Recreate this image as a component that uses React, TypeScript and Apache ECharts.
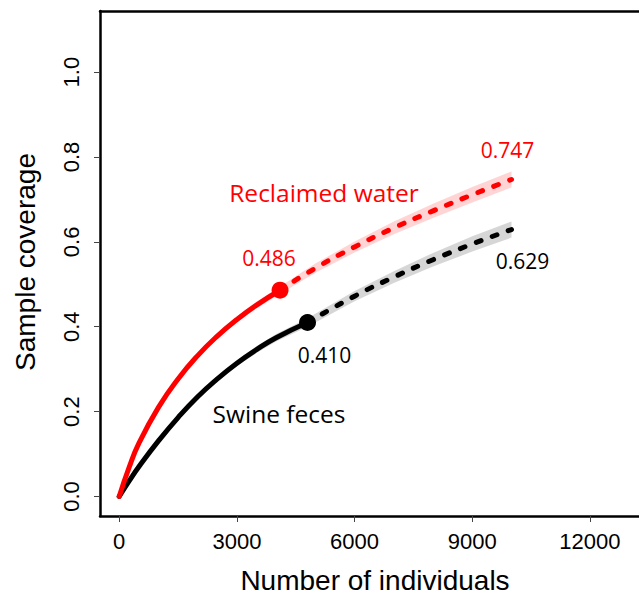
import React, { useEffect, useRef } from "react";
import * as echarts from "echarts";

// Rarefaction (observed) part
const redObsX = [0, 250, 500, 1000, 1500, 2000, 2500, 3000, 3500, 4100];
const redObsY = [0, 0.068, 0.125, 0.21, 0.277, 0.332, 0.378, 0.417, 0.451, 0.486];
// Extrapolated part
const redExtX = [4100, 5000, 6000, 7000, 8000, 9000, 10000];
const redExtY = [0.486, 0.538, 0.588, 0.633, 0.673, 0.711, 0.747];
// Confidence band half widths along x
const redBandX = [0, 500, 1000, 1500, 2000, 2500, 3000, 3500, 4100, 5000, 6000, 7000, 8000, 9000, 10000];
const redBandHalf = [0, 0.002, 0.003, 0.004, 0.005, 0.006, 0.007, 0.008, 0.009, 0.011, 0.013, 0.015, 0.017, 0.018, 0.019];

const blackObsX = [0, 250, 500, 1000, 1500, 2000, 2500, 3000, 3500, 4000, 4800];
const blackObsY = [0, 0.036, 0.07, 0.131, 0.186, 0.235, 0.277, 0.314, 0.346, 0.374, 0.41];
const blackExtX = [4800, 6000, 7000, 8000, 9000, 10000];
const blackExtY = [0.41, 0.472, 0.517, 0.558, 0.595, 0.629];
const blackBandX = [0, 500, 1000, 1500, 2000, 2500, 3000, 3500, 4000, 4800, 6000, 7000, 8000, 9000, 10000];
const blackBandHalf = [0, 0.002, 0.003, 0.004, 0.005, 0.006, 0.007, 0.008, 0.009, 0.01, 0.012, 0.014, 0.016, 0.018, 0.019];

const xTicks = [0, 3000, 6000, 9000, 12000];
const yTicks = [0, 0.2, 0.4, 0.6, 0.8, 1.0];

const RED = "#ff0000";
const BLACK = "#000000";

function interp(xs: number[], ys: number[], x: number): number {
  for (let i = 0; i < xs.length - 1; i++) {
    if (x >= xs[i] && x <= xs[i + 1]) {
      const t = (x - xs[i]) / (xs[i + 1] - xs[i]);
      return ys[i] + t * (ys[i + 1] - ys[i]);
    }
  }
  return ys[ys.length - 1];
}

function centerAt(obsX: number[], obsY: number[], extX: number[], extY: number[], x: number) {
  if (x <= obsX[obsX.length - 1]) return interp(obsX, obsY, x);
  return interp(extX, extY, x);
}

function bandSeries(obsX: number[], obsY: number[], extX: number[], extY: number[], bx: number[], bh: number[], color: string) {
  return {
    type: "custom",
    silent: true,
    z: 1,
    data: [0],
    renderItem: (_params: any, api: any) => {
      const upper: number[][] = [];
      const lower: number[][] = [];
      for (let i = 0; i < bx.length; i++) {
        const c = centerAt(obsX, obsY, extX, extY, bx[i]);
        upper.push(api.coord([bx[i], c + bh[i]]));
        lower.push(api.coord([bx[i], c - bh[i]]));
      }
      const pts = upper.concat(lower.reverse());
      return {
        type: "polygon",
        shape: { points: pts },
        style: { fill: color },
      };
    },
  };
}

function lineSeries(xs: number[], ys: number[], color: string, dashed: boolean) {
  return {
    type: "line",
    data: xs.map((x, i) => [x, ys[i]]),
    showSymbol: false,
    smooth: 0.5,
    z: 3,
    lineStyle: {
      color,
      width: 5,
      type: dashed ? [5, 12] : "solid",
      cap: "round",
      join: "round",
    },
  };
}

export default function App() {
  const ref = useRef<HTMLDivElement>(null);
  useEffect(() => {
    if (!ref.current) return;
    const chart = echarts.init(ref.current, undefined, { renderer: "svg" });
    const axisFont = "Liberation Sans, Arial, sans-serif";
    const labelFont = "Open Sans, sans-serif";
    const frameLine = { show: true, onZero: false, lineStyle: { color: "#000", width: 2.5 } };
    chart.setOption({
      animation: false,
      grid: {
        left: 100,
        top: 11,
        right: 0,
        height: 505,
        show: false,
      },
      xAxis: [
        {
          type: "value",
          position: "bottom",
          min: -490,
          max: 13250,
          splitLine: { show: false },
          axisLine: frameLine,
          axisTick: {
            show: true,
            length: 6,
            customValues: xTicks,
            lineStyle: { color: "#444", width: 1 },
          },
          axisLabel: {
            customValues: xTicks,
            fontFamily: axisFont,
            fontSize: 22,
            color: "#000",
            margin: 14,
            formatter: (v: number) => String(v),
          },
        },
        {
          type: "value",
          position: "top",
          min: -490,
          max: 13250,
          splitLine: { show: false },
          axisLine: frameLine,
          axisTick: { show: false },
          axisLabel: { show: false },
        },
      ],
      yAxis: {
        type: "value",
        min: -0.046,
        max: 1.144,
        splitLine: { show: false },
        axisLine: frameLine,
        axisTick: {
          show: true,
          length: 6,
          customValues: yTicks,
          lineStyle: { color: "#444", width: 1 },
        },
        axisLabel: {
          customValues: yTicks,
          rotate: 90,
          fontFamily: axisFont,
          fontSize: 22,
          color: "#000",
          margin: 18,
          formatter: (v: number) => v.toFixed(1),
        },
      },
      graphic: [
        {
          type: "text",
          x: 375,
          y: 580,
          style: {
            text: "Number of individuals",
            font: `28px ${axisFont}`,
            lineHeight: 26,
            fill: "#000",
            align: "center",
            verticalAlign: "middle",
          },
        },
        {
          type: "text",
          x: 25,
          y: 262,
          rotation: Math.PI / 2,
          style: {
            text: "Sample coverage",
            font: `28px ${axisFont}`,
            fill: "#000",
            align: "center",
            verticalAlign: "middle",
          },
        },
        {
          type: "text",
          x: 324,
          y: 192,
          style: {
            text: "Reclaimed water",
            font: `24.5px ${labelFont}`,
            fill: RED,
            align: "center",
            verticalAlign: "middle",
          },
        },
        {
          type: "text",
          x: 279,
          y: 413,
          style: {
            text: "Swine feces",
            font: `24.5px ${labelFont}`,
            fill: BLACK,
            align: "center",
            verticalAlign: "middle",
          },
        },
      ],
      series: [
        bandSeries(redObsX, redObsY, redExtX, redExtY, redBandX, redBandHalf, "rgba(255,0,0,0.17)"),
        bandSeries(blackObsX, blackObsY, blackExtX, blackExtY, blackBandX, blackBandHalf, "rgba(0,0,0,0.16)"),
        lineSeries(blackObsX, blackObsY, BLACK, false),
        lineSeries(blackExtX, blackExtY, BLACK, true),
        lineSeries(redObsX, redObsY, RED, false),
        lineSeries(redExtX, redExtY, RED, true),
        {
          type: "scatter",
          z: 5,
          symbolSize: 17,
          itemStyle: { opacity: 1 },
          data: [
            {
              value: [redObsX[redObsX.length - 1], redObsY[redObsY.length - 1]],
              itemStyle: { color: RED, opacity: 1 },
              label: { show: true, color: RED, offset: [-11, -32] },
            },
            {
              value: [blackObsX[blackObsX.length - 1], blackObsY[blackObsY.length - 1]],
              itemStyle: { color: BLACK, opacity: 1 },
              label: { show: true, color: BLACK, offset: [17, 33] },
            },
          ],
          label: {
            position: "inside",
            fontFamily: labelFont,
            fontSize: 21,
            formatter: (p: any) => p.value[1].toFixed(3),
          },
        },
        {
          type: "scatter",
          z: 5,
          symbolSize: 0,
          itemStyle: { opacity: 1 },
          data: [
            {
              value: [redExtX[redExtX.length - 1], redExtY[redExtY.length - 1]],
              label: { show: true, color: RED, offset: [-4, -29] },
            },
            {
              value: [blackExtX[blackExtX.length - 1], blackExtY[blackExtY.length - 1]],
              label: { show: true, color: BLACK, offset: [11, 31] },
            },
          ],
          label: {
            position: "inside",
            fontFamily: labelFont,
            fontSize: 21,
            formatter: (p: any) => p.value[1].toFixed(3),
          },
        },
      ],
    });
    return () => chart.dispose();
  }, []);
  return <div ref={ref} style={{ width: 639, height: 594, position: "absolute", left: 0, top: 0 }} />;
}
